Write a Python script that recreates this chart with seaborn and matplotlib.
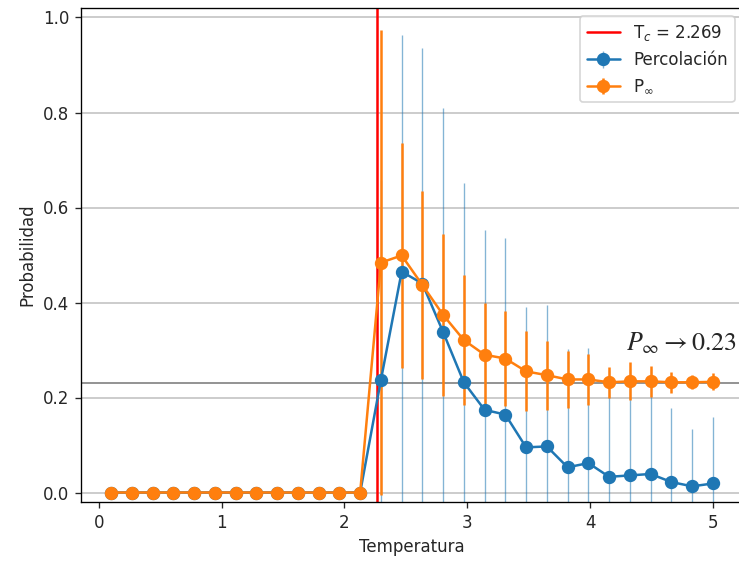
import numpy as np
import matplotlib
matplotlib.use("Agg")
import matplotlib.pyplot as plt
import seaborn as sns

OUT = "out.png"
TC = 2.269
P_LIMIT = 0.23

temps = [0.1, 0.269, 0.438, 0.607, 0.776, 0.945, 1.114, 1.283, 1.452, 1.621,
         1.79, 1.959, 2.128, 2.297, 2.466, 2.634, 2.803, 2.972, 3.141, 3.31,
         3.479, 3.648, 3.817, 3.986, 4.155, 4.324, 4.493, 4.662, 4.831, 5.0]

# probabilidad de percolacion y su desviacion
perc = [0.0] * 13 + [0.237, 0.465, 0.44, 0.338, 0.232, 0.174, 0.164, 0.095, 0.097,
                     0.053, 0.062, 0.033, 0.036, 0.039, 0.022, 0.013, 0.019]
perc_err = [0.0] * 13 + [0.42, 0.498, 0.496, 0.472, 0.419, 0.379, 0.371, 0.296, 0.297,
                         0.25, 0.242, 0.225, 0.225, 0.222, 0.156, 0.121, 0.141]

# P infinito y su desviacion
pinf = [0.0] * 13 + [0.484, 0.499, 0.437, 0.374, 0.321, 0.29, 0.282, 0.255, 0.247,
                     0.238, 0.238, 0.232, 0.234, 0.234, 0.232, 0.232, 0.233]
pinf_err = [0.0] * 13 + [0.49, 0.236, 0.198, 0.17, 0.137, 0.11, 0.10, 0.084, 0.073,
                         0.06, 0.053, 0.033, 0.04, 0.033, 0.022, 0.015, 0.018]

sns.set_style("ticks", {"xtick.major.size": 3.5, "ytick.major.size": 3.5,
                        "axes.edgecolor": "black", "grid.color": "#c4c4c4"})
plt.rcParams["font.family"] = ["DejaVu Sans"]
colors = sns.color_palette("tab10")

fig = plt.figure(figsize=(739 / 120, 563 / 120), dpi=120)
ax = fig.add_axes([81 / 739, 61 / 563, 662 / 739, 494 / 563])

ax.axhline(P_LIMIT, color="gray", lw=1)
ax.axvline(TC, color="red", lw=1.5, label=r"T$_c$ = 2.269")
eb = ax.errorbar(temps, perc, yerr=perc_err, fmt="-o", color=colors[0], ms=7,
                 elinewidth=0.8, label="Percolación")
eb[2][0].set_alpha(0.55)
ax.errorbar(temps, pinf, yerr=pinf_err, fmt="-o", color=colors[1], ms=7,
            label=r"P$_\infty$")

ax.text(4.29, 0.3, r"$P_\infty \to 0.23$", fontsize=15.5, math_fontfamily="stix")

ax.set_xlim(-0.145, 5.245)
ax.set_ylim(-0.02, 1.02)
ax.grid(axis="y", lw=1)
ax.set_xlabel("Temperatura")
ax.set_ylabel("Probabilidad")
ax.legend(loc="upper right")

fig.savefig(OUT, dpi=120)
print(f"Saved: {OUT}")
